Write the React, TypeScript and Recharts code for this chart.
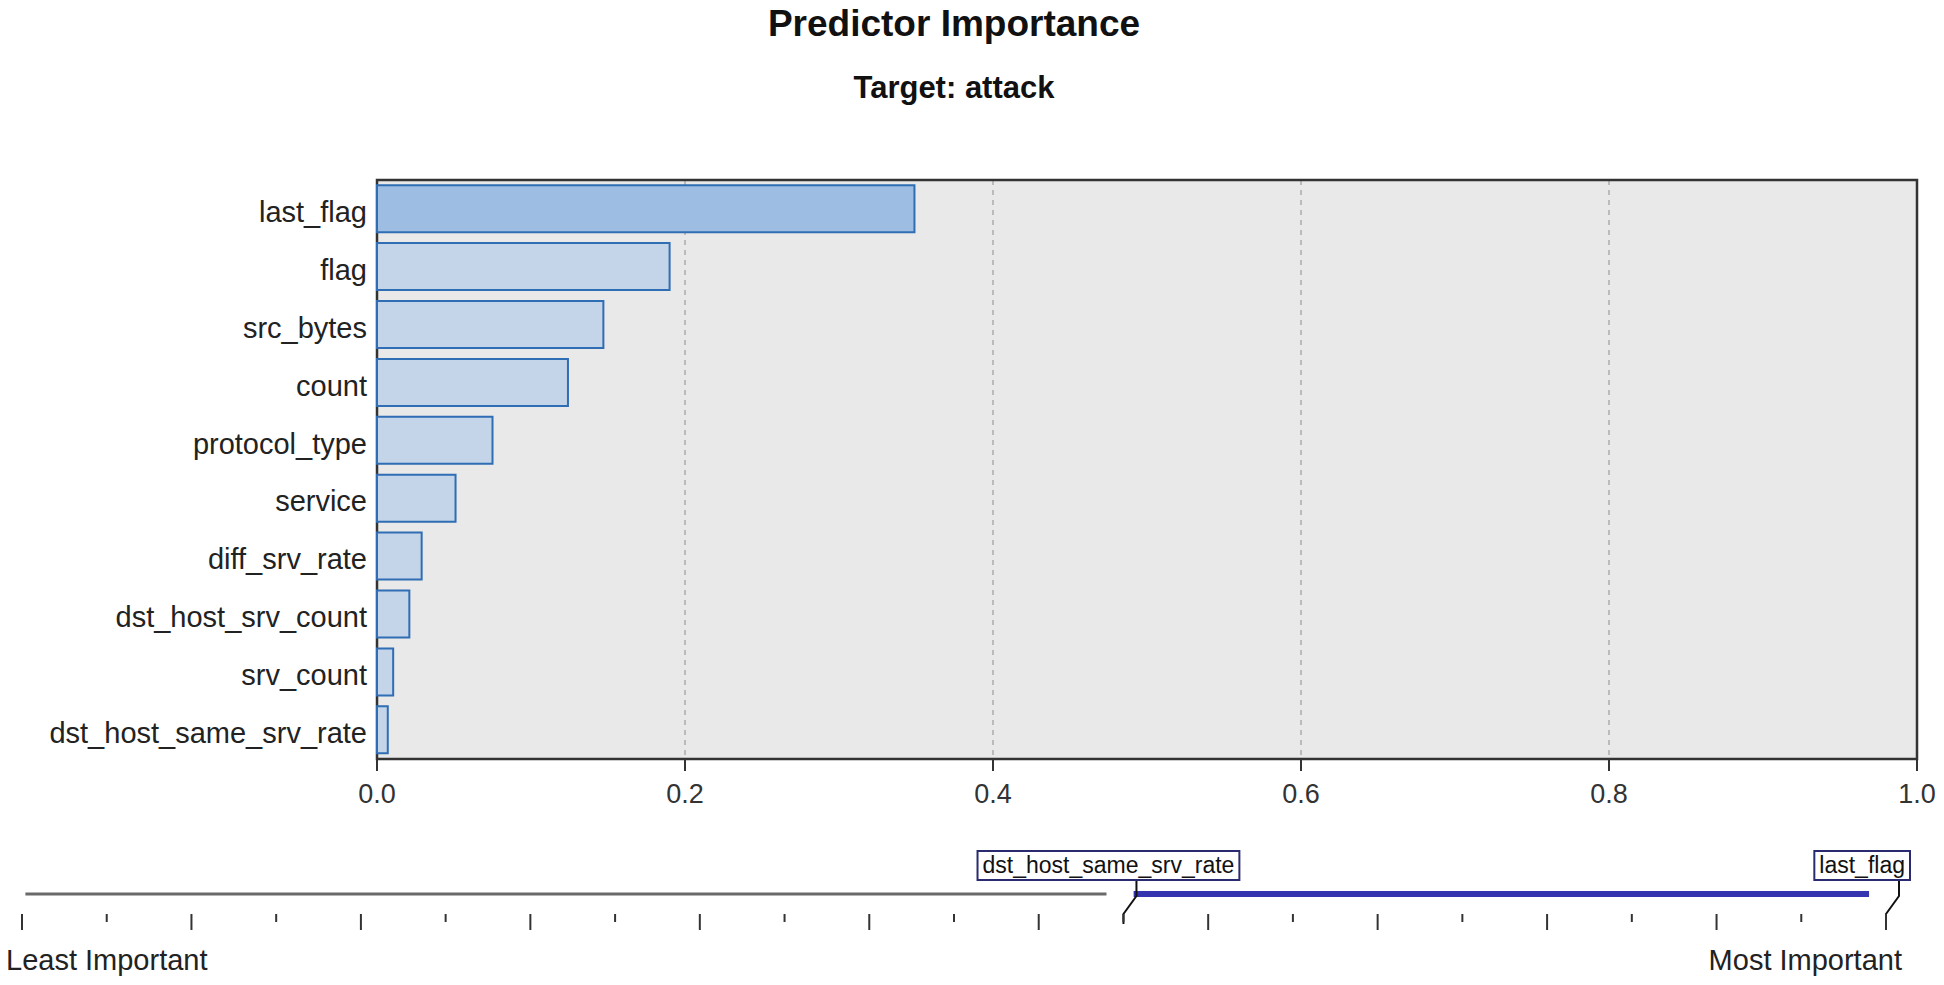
import { Bar, BarChart, CartesianGrid, Cell, ComposedChart, Line, ReferenceArea, ReferenceDot, ReferenceLine, XAxis, YAxis } from "recharts";

const FONT = "'Liberation Sans', Arial, sans-serif";

const predictors = [
  "last_flag",
  "flag",
  "src_bytes",
  "count",
  "protocol_type",
  "service",
  "diff_srv_rate",
  "dst_host_srv_count",
  "srv_count",
  "dst_host_same_srv_rate"
];
const importance = [0.349, 0.19, 0.147, 0.124, 0.075, 0.051, 0.029, 0.021, 0.0105, 0.007];
const importanceTicks = [0, 0.2, 0.4, 0.6, 0.8, 1.0];

// ranks on the slider below (23 predictors, the 10 most important shown)
const rankTicks = [0, 1, 2, 3, 4, 5, 6, 7, 8, 9, 10, 11, 12, 13, 14, 15, 16, 17, 18, 19, 20, 21, 22];
const shownFrom = 13;
const shownTo = 22;

const barData = predictors.map((name, i) => ({ name, value: importance[i] }));
const rankData = rankTicks.map((rank) => ({ rank, level: 0.5 }));

function textWidth(text: string, size: number) {
  const ctx = document.createElement("canvas").getContext("2d");
  if (!ctx) return text.length * size * 0.5;
  ctx.font = `${size}px ${FONT}`;
  return ctx.measureText(text).width;
}

function NameTick(props: any) {
  const { x, y, payload } = props;
  return (
    <text x={x} y={y + 13} textAnchor="end" fontSize={29} fill="#222" fontFamily={FONT}>
      {payload.value}
    </text>
  );
}

function RankTick(props: any) {
  const { x, y, index } = props;
  const long = index % 2 === 0;
  return (
    <g>
      <line x1={x} x2={x} y1={y} y2={y + (long ? 16 : 8)} stroke="#333" strokeWidth={2} />
      {index === 0 && (
        <text x={x - 16} y={y + 56} textAnchor="start" fontSize={29} fill="#222" fontFamily={FONT}>
          Least Important
        </text>
      )}
      {index === rankTicks.length - 1 && (
        <text x={x + 16} y={y + 56} textAnchor="end" fontSize={29} fill="#222" fontFamily={FONT}>
          Most Important
        </text>
      )}
    </g>
  );
}

function Thumb(props: any) {
  const { cx, cy, name } = props;
  const w = textWidth(name, 23) + 10;
  let left = cx - 15 - w / 2;
  if (left + w > 1910) left = 1910 - w;
  const top = cy - 43;
  return (
    <g>
      <path
        d={`M${cx + 13},${top + 29} L${cx + 13},${cy + 2} L${cx},${cy + 20} L${cx},${cy + 30}`}
        fill="none"
        stroke="#111"
        strokeWidth={2}
      />
      <rect x={left} y={top} width={w} height={29} fill="#fff" stroke="#2a2a70" strokeWidth={2} />
      <text x={left + w / 2} y={top + 22} textAnchor="middle" fontSize={23} fill="#111" fontFamily={FONT}>
        {name}
      </text>
    </g>
  );
}

export default function App() {
  return (
    <div style={{ position: "absolute", left: 0, top: 0, width: 1944, height: 985, background: "#fff", fontFamily: FONT }}>
      <div style={{ position: "absolute", left: 654, top: 5, width: 600, textAlign: "center", fontSize: 37, fontWeight: 700, lineHeight: 1, color: "#111" }}>
        Predictor Importance
      </div>
      <div style={{ position: "absolute", left: 754, top: 72, width: 400, textAlign: "center", fontSize: 31, fontWeight: 700, lineHeight: 1, color: "#111" }}>
        Target: attack
      </div>

      <div style={{ position: "absolute", left: 0, top: 0 }}>
        <BarChart
          width={1944}
          height={830}
          data={barData}
          layout="vertical"
          margin={{ top: 180, right: 27, left: 0, bottom: 21 }}
          barCategoryGap="9%"
        >
          <CartesianGrid horizontal={false} stroke="#8c8c8c" strokeDasharray="5 5" fill="#e9e9e9" fillOpacity={1} />
          <XAxis
            type="number"
            domain={[0, 1]}
            ticks={importanceTicks}
            tickFormatter={(v) => Number(v).toFixed(1)}
            height={50}
            tickSize={12}
            tickMargin={13}
            axisLine={{ stroke: "#333", strokeWidth: 2 }}
            tickLine={{ stroke: "#333", strokeWidth: 2 }}
            tick={{ fontSize: 27, fill: "#333", fontFamily: FONT }}
          />
          <YAxis
            type="category"
            dataKey="name"
            width={377}
            tickSize={0}
            tickMargin={10}
            axisLine={false}
            tickLine={false}
            interval={0}
            tick={(p: any) => <NameTick {...p} />}
          />
          <Bar dataKey="value" stroke="#2f6db4" strokeWidth={2} isAnimationActive={false}>
            {barData.map((d, i) => (
              <Cell key={d.name} fill={i === 0 ? "#9dbde2" : "#c4d5e9"} />
            ))}
          </Bar>
          <ReferenceArea x1={0} x2={1} fill="none" stroke="#333" strokeWidth={2.5} />
        </BarChart>
      </div>

      <div style={{ position: "absolute", left: 0, top: 840 }}>
        <ComposedChart width={1944} height={145} data={rankData} margin={{ top: 34, right: 58, left: 22, bottom: 0 }}>
          <XAxis
            type="number"
            dataKey="rank"
            domain={[0, rankTicks.length - 1]}
            ticks={rankTicks}
            interval={0}
            height={71}
            tickSize={0}
            tickMargin={0}
            axisLine={false}
            tickLine={false}
            tick={(p: any) => <RankTick {...p} />}
          />
          <YAxis type="number" domain={[0, 1]} hide width={0} />
          <Line dataKey="level" stroke="none" dot={false} isAnimationActive={false} />
          <ReferenceLine segment={[{ x: 0.04, y: 0.5 }, { x: shownFrom - 0.2, y: 0.5 }]} stroke="#6a6a6a" strokeWidth={3} />
          <ReferenceLine segment={[{ x: shownFrom + 0.12, y: 0.5 }, { x: shownTo - 0.2, y: 0.5 }]} stroke="#3535b0" strokeWidth={6} />
          <ReferenceDot x={shownFrom} y={0.5} shape={(p: any) => <Thumb {...p} name={predictors[predictors.length - 1]} />} />
          <ReferenceDot x={shownTo} y={0.5} shape={(p: any) => <Thumb {...p} name={predictors[0]} />} />
        </ComposedChart>
      </div>
    </div>
  );
}
